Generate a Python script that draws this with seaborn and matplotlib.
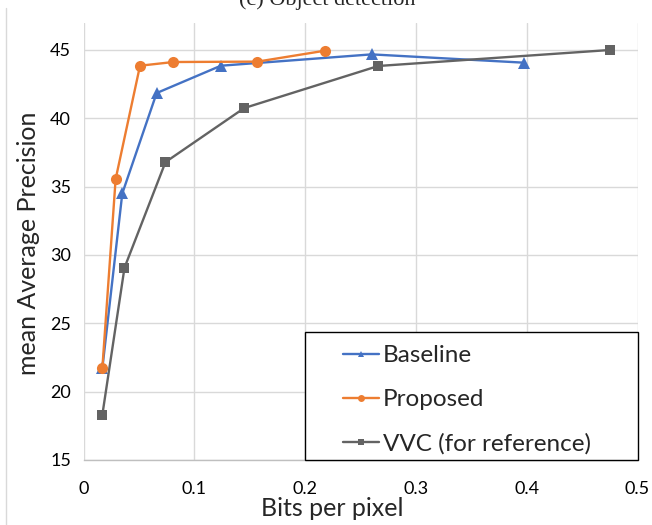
import numpy as np
import pandas as pd
import matplotlib
matplotlib.use("Agg")
import matplotlib.pyplot as plt
from matplotlib.lines import Line2D
from matplotlib.patches import Rectangle
import seaborn as sns

# ---- data ----
baseline_bpp = [0.017, 0.035, 0.066, 0.124, 0.260, 0.398]
baseline_map = [21.7, 34.5, 41.85, 43.85, 44.68, 44.07]
proposed_bpp = [0.017, 0.029, 0.051, 0.081, 0.157, 0.218]
proposed_map = [21.7, 35.55, 43.85, 44.12, 44.15, 44.95]
vvc_bpp = [0.017, 0.037, 0.074, 0.145, 0.266, 0.475]
vvc_map = [18.3, 29.07, 36.8, 40.75, 43.83, 45.0]
series_names = ["Baseline", "Proposed", "VVC (for reference)"]
x_ticks = [0, 0.1, 0.2, 0.3, 0.4, 0.5]
x_tick_labels = ["0", "0.1", "0.2", "0.3", "0.4", "0.5"]
y_ticks = [15, 20, 25, 30, 35, 40, 45]

frames = []
for name, xs, ys in zip(series_names,
                        [baseline_bpp, proposed_bpp, vvc_bpp],
                        [baseline_map, proposed_map, vvc_map]):
    frames.append(pd.DataFrame({"bpp": xs, "mAP": ys, "Method": name}))
df = pd.concat(frames, ignore_index=True)

colors = {"Baseline": "#4472C4", "Proposed": "#ED7D31", "VVC (for reference)": "#636363"}
markers = {"Baseline": "^", "Proposed": "o", "VVC (for reference)": "s"}
msizes = {"Baseline": 8.5, "Proposed": 8, "VVC (for reference)": 7}

sns.set_style("white")
FONT = ["Lato", "DejaVu Sans"]
plt.rcParams["font.family"] = FONT

W, H = 652, 525
fig = plt.figure(figsize=(W / 100, H / 100), dpi=100)
ax = fig.add_axes([83.5 / W, 1 - 460 / H, (637.5 - 83.5) / W, (460 - 23) / H])

for name in series_names:
    sub = df[df["Method"] == name]
    sns.lineplot(data=sub, x="bpp", y="mAP", ax=ax, color=colors[name],
                 marker=markers[name], markersize=msizes[name],
                 markeredgewidth=0, linewidth=1.7, sort=False,
                 estimator=None, legend=False, zorder=4)

ax.set_xlim(0, 0.5)
ax.set_ylim(15, 45 + 27 / 13.667)
ax.set_xticks(x_ticks)
ax.set_xticklabels(x_tick_labels)
ax.set_yticks(y_ticks)
ax.grid(True, color="#D9D9D9", linewidth=1.0)
for s in ax.spines.values():
    s.set_visible(False)
ax.spines["bottom"].set_visible(True)
ax.spines["bottom"].set_color("#BFBFBF")
ax.spines["bottom"].set_linewidth(1.0)
ax.spines["bottom"].set_zorder(2)
ax.tick_params(axis="both", length=0, labelsize=13, colors="black")
ax.tick_params(axis="y", pad=9)
ax.tick_params(axis="x", pad=15)
ax.set_xlabel("")
ax.set_ylabel("")

# legend box
rect = Rectangle((221.5 / 554, 0), 1 - 221.5 / 554, (460 - 332) / 437,
                 transform=ax.transAxes, facecolor="white", edgecolor="black",
                 linewidth=1.0, zorder=6, clip_on=False)
ax.add_patch(rect)
handles = [Line2D([], [], color=colors[n], marker=markers[n], markersize=5,
                  markeredgewidth=0, linewidth=1.7) for n in series_names]
leg = ax.legend(handles, series_names, loc="upper left",
                bbox_to_anchor=((343 - 83.5) / 554, (460 - 345) / 437),
                frameon=False, fontsize=17.5, borderpad=0, borderaxespad=0,
                handlelength=1.48, handletextpad=0.16, labelspacing=0.95)
leg.set_zorder(7)

fig.text(29 / W, 1 - 243 / H, "mean Average Precision", rotation=90,
         ha="center", va="center", fontsize=18)
fig.text(332 / W, 1 - 509 / H, "Bits per pixel", ha="center", va="center",
         fontsize=18)
fig.text(327 / W, 1 - 5 / H, "(c) Object detection", ha="center",
         va="baseline", fontsize=16, family=["Liberation Serif", "DejaVu Serif"])

fig.add_artist(Line2D([5.5 / W, 5.5 / W], [0, 1 - 8 / H], color="#D9D9D9",
                      linewidth=1.0, transform=fig.transFigure))

fig.savefig("out.png", dpi=100)
